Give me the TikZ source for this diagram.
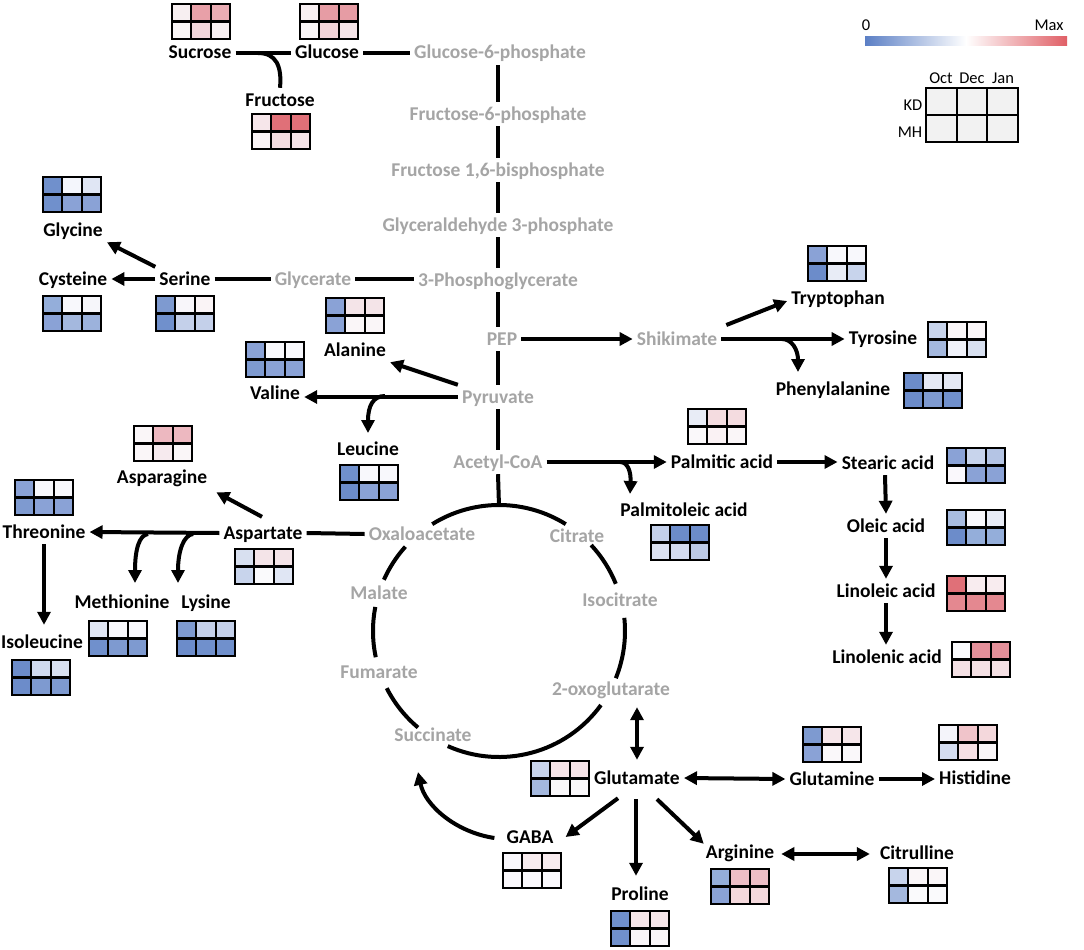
\documentclass[tikz,border=0pt]{standalone}
\usepackage{fontspec}
\setmainfont{Carlito}
\usetikzlibrary{arrows.meta,calc}
\definecolor{gtext}{HTML}{A5A5A5}
\definecolor{cbB}{HTML}{5B7FC5}
\definecolor{cbR}{HTML}{E05F66}
\definecolor{legcell}{HTML}{F2F2F2}
\newcommand{\hmap}[8]{%
\definecolor{hA}{HTML}{#3}\definecolor{hB}{HTML}{#4}\definecolor{hC}{HTML}{#5}%
\definecolor{hD}{HTML}{#6}\definecolor{hE}{HTML}{#7}\definecolor{hF}{HTML}{#8}%
\begin{scope}[shift={(#1,#2)}]
\fill[hA] (0,0) rectangle (19.333,17.5);
\fill[hB] (19.333,0) rectangle (38.667,17.5);
\fill[hC] (38.667,0) rectangle (58,17.5);
\fill[hD] (0,17.5) rectangle (19.333,35);
\fill[hE] (19.333,17.5) rectangle (38.667,35);
\fill[hF] (38.667,17.5) rectangle (58,35);
\draw[hmline] (0,0) rectangle (58,35);
\draw[hmline] (19.333,0) -- (19.333,35) (38.667,0) -- (38.667,35) (0,17.5) -- (58,17.5);
\end{scope}}
\tikzset{
 lab/.style={font=\bfseries\fontsize{19.5}{21}\selectfont, inner xsep=4pt, inner ysep=3pt, text height=15pt, text depth=3pt},
 glab/.style={lab, text=gtext},
 conn/.style={line width=4pt},
 arr/.style={conn, -{Triangle[length=13pt,width=13pt]}},
 darr/.style={conn, {Triangle[length=13pt,width=13pt]}-{Triangle[length=13pt,width=13pt]}},
 hmline/.style={line width=2.3pt},
 leg/.style={font=\fontsize{16.5}{18}\selectfont, inner sep=1pt}
}
\begin{document}
\begin{tikzpicture}[x=1pt,y=-1pt]
\useasboundingbox (0,0) rectangle (1084,950);
\fill[white] (0,0) rectangle (1084,950);

% ---------- legend ----------
\shade[left color=cbB, right color=cbR, middle color=white] (865,37) rectangle (1067,46);
\node[leg] (l0) at (866,25) {0};
\node[leg] (lmax) at (1049,25) {Max};
\begin{scope}[shift={(926,88)}]
\fill[legcell] (0,0) rectangle (92,54);
\draw[hmline] (0,0) rectangle (92,54);
\draw[hmline] (30.667,0) -- (30.667,54) (61.333,0) -- (61.333,54) (0,27) -- (92,27);
\end{scope}
\node[leg] (loct) at (941,78) {Oct};
\node[leg] (ldec) at (972,78) {Dec};
\node[leg] (ljan) at (1003,78) {Jan};
\node[leg] (lkd) at (913,105) {KD};
\node[leg] (lmh) at (910,132) {MH};

% ---------- labels ----------
\node[lab] (suc) at (200,53) {Sucrose};
\node[lab] (glc) at (327,53) {Glucose};
\node[glab] (g6p) at (500,53) {Glucose-6-phosphate};
\node[lab] (fru) at (280,100) {Fructose};
\node[glab] (f6p) at (498,114) {Fructose-6-phosphate};
\node[glab] (f16) at (498,170) {Fructose 1,6-bisphosphate};
\node[glab] (g3p) at (498,225) {Glyceraldehyde 3-phosphate};
\node[glab] (pg3) at (498,280) {3-Phosphoglycerate};
\node[glab] (pep) at (502,339) {PEP};
\node[glab] (pyr) at (498,397) {Pyruvate};
\node[glab] (acc) at (498,462) {Acetyl-CoA};
\node[glab] (glyc) at (313,279) {Glycerate};
\node[lab] (ser) at (185,279) {Serine};
\node[lab] (cys) at (73,279) {Cysteine};
\node[lab] (gly) at (73,230) {Glycine};
\node[lab] (ala) at (355,350) {Alanine};
\node[lab] (val) at (275,393) {Valine};
\node[lab] (leu) at (368,449) {Leucine};
\node[lab] (asn) at (162,477) {Asparagine};
\node[lab] (asp) at (263,533) {Aspartate};
\node[lab] (thr) at (44,532) {Threonine};
\node[lab] (met) at (122,602) {Methionine};
\node[lab] (lys) at (206,602) {Lysine};
\node[lab] (ile) at (42,642) {Isoleucine};
\node[glab] (oaa) at (422,534) {Oxaloacetate};
\node[glab] (cit) at (577,536) {Citrate};
\node[glab] (mal) at (379,593) {Malate};
\node[glab] (icit) at (620,600) {Isocitrate};
\node[glab] (fum) at (379,672) {Fumarate};
\node[glab] (oxo) at (611,689) {2-oxoglutarate};
\node[glab] (sucn) at (433,735) {Succinate};
\node[glab] (shik) at (677,339) {Shikimate};
\node[lab] (trp) at (838,298) {Tryptophan};
\node[lab] (tyr) at (883,338) {Tyrosine};
\node[lab] (phe) at (833,389) {Phenylalanine};
\node[lab] (palm) at (722,462) {Palmitic acid};
\node[lab] (pole) at (684,510) {Palmitoleic acid};
\node[lab] (ste) at (888,463) {Stearic acid};
\node[lab] (ole) at (886,526) {Oleic acid};
\node[lab] (lin) at (886,591) {Linoleic acid};
\node[lab] (lnn) at (887,657) {Linolenic acid};
\node[lab] (glu) at (637,778) {Glutamate};
\node[lab] (gln) at (832,779) {Glutamine};
\node[lab] (his) at (975,778) {Histidine};
\node[lab] (gaba) at (530,837) {GABA};
\node[lab] (pro) at (640,894) {Proline};
\node[lab] (arg) at (740,852) {Arginine};
\node[lab] (citr) at (917,853) {Citrulline};

% ---------- heatmaps ----------
\hmap{172}{4}{F7EFF1}{E8A0A8}{EAADB4}{FAF6F7}{F2D6DB}{F8F0F2}
\hmap{300}{4}{F8F0F2}{E69CA4}{E69CA4}{FAF6F7}{F2D4D8}{F5E4E8}
\hmap{252}{114}{F6E6EA}{E07078}{E07078}{FAF4F6}{F4DCE0}{F6E4E8}
\hmap{43}{177}{7090CC}{F4F6FC}{E0E6F4}{7090CC}{8AA2D6}{8AA2D6}
\hmap{43}{296}{94AEDA}{F8F8FC}{F6F6FA}{8AA2D6}{A4B8DE}{9CB2DC}
\hmap{156}{296}{7E9AD0}{F8F6FA}{FAF4F6}{7090CC}{C4D0EA}{C4D0EA}
\hmap{326}{298}{8AA2D6}{F4E4E8}{F4E4E8}{8AA2D6}{FAF6F8}{FAF6F8}
\hmap{246}{342}{8AA2D6}{F8F8FC}{F8F8FC}{7E9AD0}{8AA2D6}{8AA2D6}
\hmap{340}{465}{7090CC}{F8F8FC}{F8F8FC}{6C8CCA}{8AA2D6}{8AA2D6}
\hmap{134}{426}{FAF6F8}{EDB8C0}{EDB8C0}{FAF6F8}{F6EAEE}{FAF6F8}
\hmap{15}{480}{8AA2D6}{F8F8FC}{F8F8FC}{7E9AD0}{8AA2D6}{8AA2D6}
\hmap{235}{549}{D8E0F0}{F4E4E8}{F4E4E8}{C8D4EC}{FAFAFC}{E0E6F4}
\hmap{89}{621}{E0E6F4}{F8F8FC}{F8F8FC}{7090CC}{7E9AD0}{7E9AD0}
\hmap{177}{621}{7E9AD0}{C4D0EA}{C4D0EA}{6C8CCA}{7090CC}{7090CC}
\hmap{12}{660}{6C8CCA}{D0DAEE}{D8E0F0}{6C8CCA}{7E9AD0}{7E9AD0}
\hmap{808}{246}{8AA2D6}{F8F8FC}{F8F8FC}{6C8CCA}{E8ECF6}{C8D4EC}
\hmap{928}{322}{C8D4EC}{FAF6F8}{FAF6F8}{A4B8DE}{F0F2FA}{D8E0F0}
\hmap{904}{373}{6C8CCA}{E4E8F4}{E4E8F4}{6C8CCA}{7E9AD0}{7090CC}
\hmap{688}{409}{E8ECF6}{F4DCE0}{F4DCE0}{FAF8FA}{FAF2F4}{FAF6F8}
\hmap{651}{525}{C4D0EA}{6C8CCA}{6C8CCA}{DCE2F2}{D4DCF0}{BCCAE6}
\hmap{947}{448}{8AA2D6}{C8D4EC}{B4C4E4}{FAF8FC}{8AA2D6}{8AA2D6}
\hmap{947}{510}{A8BCE0}{F8F8FC}{E8ECF6}{6C8CCA}{94AEDA}{94AEDA}
\hmap{947}{576}{E07078}{F8ECEF}{F8ECEF}{E48890}{E48890}{E48890}
\hmap{952}{642}{FAFAFC}{E4909A}{E4909A}{F4E0E4}{F4E0E4}{F4E0E4}
\hmap{531}{761}{C8D4EC}{F6E4E8}{F6E4E8}{A4B8DE}{FAF8FA}{FAF8FA}
\hmap{803}{727}{7E9AD0}{F6E6EA}{F6E6EA}{8AA2D6}{FAF8FA}{FAF8FA}
\hmap{939}{725}{F4F4FA}{F0C4CA}{F4D8DC}{D4DCF0}{F6E0E4}{FAF6F8}
\hmap{503}{853}{FAF8FC}{F8ECEF}{F8ECEF}{FAF8FC}{FAF8FC}{FAF8FC}
\hmap{611}{911}{7090CC}{F6E6EA}{F6E6EA}{7090CC}{FAF6F8}{FAF6F8}
\hmap{711}{869}{94AEDA}{EEBEC6}{EEBEC6}{8AA2D6}{F4D8DC}{F4D8DC}
\hmap{889}{868}{C8D4EC}{FAF6F8}{FAF6F8}{A4B8DE}{FAFAFC}{FAFAFC}

% ---------- TCA cycle ----------
\begin{scope}[shift={(499,631)}, y={(0pt,1pt)}]
\draw[conn] (58:126) arc[start angle=58, end angle=122, radius=126];
\draw[conn] (138:126) arc[start angle=138, end angle=156, radius=126];
\draw[conn] (169:126) arc[start angle=169, end angle=192, radius=126];
\draw[conn] (207:126) arc[start angle=207, end angle=230, radius=126];
\draw[conn] (246:126) arc[start angle=246, end angle=324, radius=126];
\draw[conn] (338:126) arc[start angle=338, end angle=366, radius=126];
\draw[conn] (22:126) arc[start angle=22, end angle=43, radius=126];
\end{scope}
\coordinate (tcatop) at (499,506);

% ---------- main chain ----------
\draw[conn] (suc.east) -- (glc.west);
\draw[conn] (glc.east) -- (g6p.west);
\coordinate (frubr) at (258,53);
\draw[conn] (frubr) .. controls (276,53) and (282,66) .. (fru.north);
\draw[conn] (g6p.south -| f6p.north) -- (f6p.north);
\draw[conn] (f6p.south) -- (f16.north);
\draw[conn] (f16.south) -- (g3p.north);
\draw[conn] (g3p.south) -- (pg3.north);
\draw[conn] (pg3.south) -- (pg3.south |- pep.north);
\draw[conn] (pep.south -| pyr.north) -- (pyr.north);
\draw[conn] (pyr.south) -- (acc.north);
\draw[conn] (acc.south) -- (tcatop);

% glycerate branch
\draw[conn] (ser.east) -- (glyc.west);
\draw[conn] (glyc.east) -- (glyc.east -| pg3.west);
\draw[arr] (ser.west) -- (cys.east);
\draw[arr] (ser.north west) -- (gly.south east);

% pyruvate branch
\draw[arr] (pyr.north west) -- (ala.south east);
\draw[arr] (pyr.west) -- (pyr.west -| val.east);
\coordinate (leubr) at (385,396);
\coordinate (leutip) at (368,433);
\draw[arr] (leubr) .. controls (373,396) and (368,406) .. (leutip);

% aspartate branch
\draw[conn] (asp.east) -- (oaa.west);
\draw[arr] (asp.west) -- (thr.east);
\draw[arr] ($(asp.north)+(-1,-4)$) -- ($(asn.south east)+(5,3)$);
\coordinate (metbr) at (148,534);
\coordinate (mettip) at (135,583);
\draw[arr] (metbr) .. controls (139,535) and (135,550) .. (mettip);
\coordinate (lysbr) at (193,534);
\coordinate (lystip) at (178,583);
\draw[arr] (lysbr) .. controls (184,535) and (178,550) .. (lystip);
\draw[arr, shorten >=5pt] (thr.south) -- (thr.south |- ile.north);

% shikimate
\draw[arr] (pep.east) -- (shik.west);
\draw[arr] ($(shik.east)+(5,-14)$) -- ($(trp.west)+(0,3)$);
\draw[arr] (shik.east) -- (shik.east -| tyr.west);
\coordinate (phebr) at (782,339);
\coordinate (phetip) at (798,372);
\draw[arr] (phebr) .. controls (792,339) and (798,350) .. (phetip);

% fatty acids
\draw[arr] (acc.east) -- (palm.west);
\coordinate (polebr) at (620,462);
\coordinate (poletip) at (630,494);
\draw[arr] (polebr) .. controls (628,462) and (631,472) .. (poletip);
\draw[arr] (palm.east) -- (palm.east -| ste.west);
\draw[arr] ($(ste.south)+(-3,0)$) -- (ole.north);
\draw[arr] (ole.south) -- (lin.north);
\draw[arr] (lin.south) -- (lin.south |- lnn.north);

% glutamate
\draw[darr, shorten <=6pt, shorten >=6pt] (oxo.south -| glu.north) -- (glu.north);
\draw[darr] (glu.east) -- (gln.west);
\draw[arr] (gln.east) -- (gln.east -| his.west);
\draw[arr] ($(glu.south)+(-19,8)$) -- ($(gaba.east)+(8,0)$);
\draw[arr] ($(glu.south)+(-1,9)$) -- ($(pro.north)+(-4,-6)$);
\draw[arr] ($(glu.south)+(20,9)$) -- ($(arg.north west)+(2,4)$);
\draw[darr] ($(arg.east)+(3,2)$) -- ($(citr.west)+(-6,1)$);
\coordinate (succtip) at (418,772);
\draw[arr] ($(gaba.west)+(-8,1)$) .. controls (455,832) and (425,805) .. (succtip);
\end{tikzpicture}
\end{document}
